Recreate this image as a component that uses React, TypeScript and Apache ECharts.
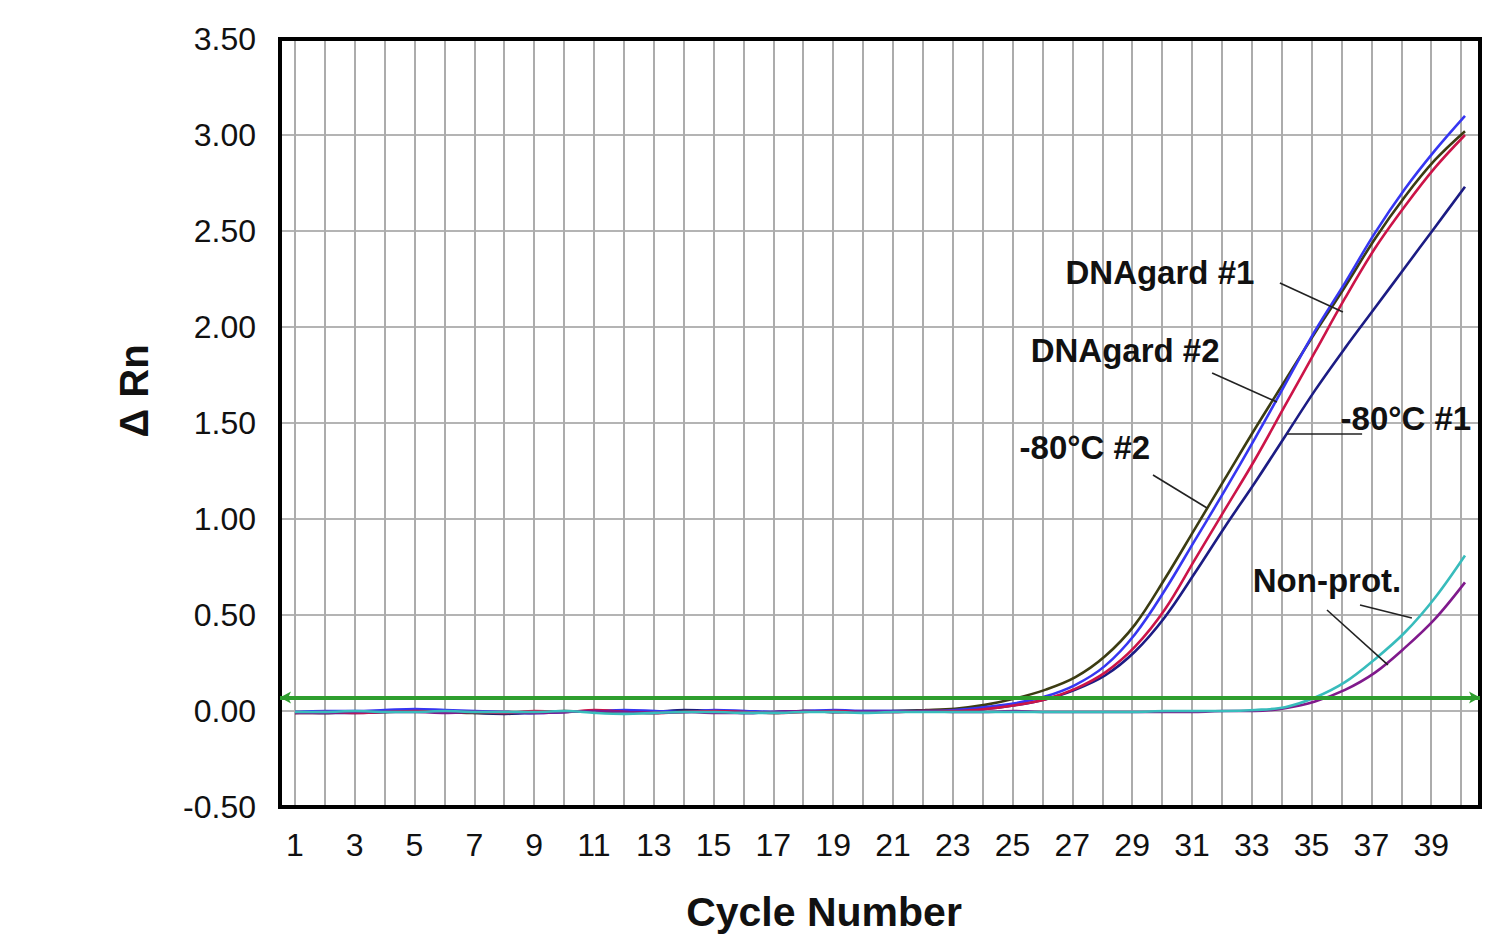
import React, { useEffect, useRef } from "react";
import * as echarts from "echarts";

const FONT = "'Liberation Sans', Arial, Helvetica, sans-serif";

const cycles = [1, 2, 3, 4, 5, 6, 7, 8, 9, 10, 11, 12, 13, 14, 15, 16, 17, 18, 19, 20,
  21, 22, 23, 24, 25, 26, 27, 28, 29, 30, 31, 32, 33, 34, 35, 36, 37, 38, 39, 40];

const xTickLabels = [1, 3, 5, 7, 9, 11, 13, 15, 17, 19, 21, 23, 25, 27, 29, 31, 33, 35, 37, 39];

// -80°C #2 (olive)
const olive = [-0.01, -0.01, -0.005, -0.005, 0.0, -0.005, -0.01, -0.01, -0.005, 0.0,
  -0.005, -0.01, -0.01, 0.0, -0.005, -0.005, -0.01, 0.0, -0.005, -0.005,
  0.0, 0.005, 0.012, 0.032, 0.065, 0.11, 0.175, 0.285, 0.45, 0.69,
  0.95, 1.21, 1.47, 1.72, 1.97, 2.21, 2.46, 2.68, 2.87, 3.02];
// DNAgard (blue)
const blue = [-0.005, 0.0, 0.0, 0.005, 0.01, 0.005, 0.0, -0.005, -0.01, -0.005,
  0.0, 0.005, 0.0, -0.005, 0.005, 0.0, -0.005, 0.0, 0.005, 0.0,
  0.0, 0.0, 0.005, 0.02, 0.04, 0.075, 0.135, 0.235, 0.40, 0.63,
  0.89, 1.15, 1.42, 1.70, 1.98, 2.23, 2.49, 2.72, 2.92, 3.10];
// DNAgard (red)
const red = [-0.01, -0.005, -0.01, -0.005, 0.0, -0.005, -0.005, -0.01, 0.0, -0.005,
  0.005, -0.005, -0.01, -0.005, 0.0, -0.005, -0.01, -0.005, 0.0, -0.005,
  -0.005, 0.0, 0.0, 0.01, 0.03, 0.06, 0.115, 0.20, 0.335, 0.53,
  0.79, 1.05, 1.31, 1.59, 1.87, 2.15, 2.41, 2.63, 2.83, 3.00];
// -80°C #1 (navy)
const navy = [-0.005, -0.01, -0.01, -0.005, 0.005, 0.0, -0.01, -0.015, -0.01, -0.005,
  0.0, -0.01, -0.005, 0.005, 0.0, -0.01, -0.005, 0.0, -0.005, 0.0,
  0.0, 0.0, 0.0, 0.01, 0.03, 0.06, 0.11, 0.185, 0.31, 0.49,
  0.72, 0.96, 1.19, 1.43, 1.67, 1.89, 2.10, 2.31, 2.52, 2.73];
// Non-prot. (teal)
const teal = [-0.005, -0.005, 0.0, -0.005, -0.005, 0.0, -0.005, -0.005, -0.005, 0.0,
  -0.01, -0.015, -0.01, -0.005, -0.005, -0.01, -0.01, -0.005, -0.005, -0.01,
  -0.005, -0.005, -0.005, -0.005, -0.005, -0.005, -0.005, -0.005, -0.005, 0.0,
  0.0, 0.0, 0.005, 0.02, 0.07, 0.15, 0.27, 0.41, 0.59, 0.81];
// Non-prot. (purple)
const purple = [-0.01, -0.01, -0.005, -0.005, -0.005, -0.01, -0.005, -0.005, -0.01, -0.005,
  0.0, -0.005, -0.01, -0.005, -0.01, -0.01, -0.005, 0.0, -0.005, -0.005,
  -0.005, 0.0, -0.005, -0.005, 0.0, -0.005, -0.005, -0.005, -0.005, -0.005,
  -0.005, 0.0, 0.0, 0.015, 0.05, 0.11, 0.20, 0.33, 0.48, 0.67];

const threshold = 0.068;

const labelTexts = ["DNAgard #1", "DNAgard #2", "-80°C #2", "-80°C #1", "Non-prot."];
const labelAnchors = [
  [29.83, 2.286],
  [28.67, 1.88],
  [27.33, 1.375],
  [38.03, 1.526],
  [35.4, 0.682],
];
const leaderLines = [
  [[33.83, 2.229], [35.93, 2.078]],
  [[31.57, 1.76], [33.73, 1.609]],
  [[34.07, 1.443], [36.57, 1.443]],
  [[29.6, 1.229], [31.4, 1.057]],
  [[35.4, 0.526], [37.43, 0.24]],
  [[36.5, 0.552], [38.23, 0.484]],
];

const seriesDefs = [
  { name: "-80°C #1", values: navy, color: "#1c1c84" },
  { name: "-80°C #2", values: olive, color: "#3c3c12" },
  { name: "DNAgard #1", values: blue, color: "#3636f2" },
  { name: "DNAgard #2", values: red, color: "#cc1448" },
  { name: "Non-prot. #1", values: purple, color: "#801a8c" },
  { name: "Non-prot. #2", values: teal, color: "#38bcbc" },
];

export default function App() {
  const ref = useRef<HTMLDivElement>(null);

  useEffect(() => {
    if (!ref.current) return;
    const chart = echarts.init(ref.current, undefined, { renderer: "svg" });

    const series: any[] = seriesDefs.map((s, k) => ({
      type: "line",
      name: s.name,
      xAxisIndex: 0,
      yAxisIndex: 0,
      data: cycles.map((c, i) => [c, s.values[i]]),
      showSymbol: false,
      symbol: "none",
      smooth: 0.35,
      lineStyle: { color: s.color, width: 2.6 },
      itemStyle: { color: s.color },
      z: 2 + k * 0.01,
    }));

    // threshold line
    series[1].markLine = {
      silent: true,
      symbol: ["arrow", "arrow"],
      symbolSize: [9, 11],
      label: { show: false },
      lineStyle: { color: "#2e9e2e", width: 4, type: "solid" },
      data: [{ yAxis: threshold }],
    };

    // annotations
    series.push({
      type: "scatter",
      name: "annotations",
      xAxisIndex: 0,
      yAxisIndex: 0,
      data: [],
      silent: true,
      z: 6,
      markLine: {
        silent: true,
        symbol: ["none", "none"],
        label: { show: false },
        lineStyle: { color: "#222", width: 1.6, type: "solid" },
        data: leaderLines.map((l) => [{ coord: l[0] }, { coord: l[1] }]),
      },
      markPoint: {
        silent: true,
        symbol: "rect",
        symbolSize: 1,
        itemStyle: { color: "rgba(0,0,0,0)" },
        label: {
          show: true,
          position: "inside",
          formatter: (p: any) => p.name,
          fontSize: 33,
          fontWeight: "bold",
          fontFamily: FONT,
          color: "#111",
        },
        data: labelTexts.map((t, i) => ({ name: t, coord: labelAnchors[i] })),
      },
    });

    chart.setOption({
      animation: false,
      backgroundColor: "#ffffff",
      textStyle: { fontFamily: FONT },
      grid: [
        {
          left: 280, top: 39, width: 1200, height: 768,
          show: true, borderColor: "#000", borderWidth: 4,
          backgroundColor: "rgba(0,0,0,0)", z: 3,
        },
        { left: 265, top: 39, width: 1230, height: 768, show: false },
      ],
      xAxis: [
        {
          type: "value", gridIndex: 0, min: 0.5, max: 40.5,
          axisLine: { show: false }, axisTick: { show: false },
          axisLabel: { show: false }, splitLine: { show: false },
        },
        {
          type: "value", gridIndex: 1, min: 0, max: 41, interval: 1,
          axisLine: { show: false }, axisTick: { show: false },
          axisLabel: {
            formatter: (v: number) => (xTickLabels.includes(v) ? String(v) : ""),
            fontSize: 32, color: "#111", margin: 22, fontFamily: FONT,
          },
          splitLine: {
            show: true, showMinLine: false, showMaxLine: false,
            lineStyle: { color: "#acacac", width: 2 },
          },
        },
      ],
      yAxis: [
        {
          type: "value", gridIndex: 0, min: -0.5, max: 3.5, interval: 0.5,
          axisLine: { show: false }, axisTick: { show: false },
          axisLabel: {
            formatter: (v: number) => v.toFixed(2),
            fontSize: 32, color: "#111", margin: 24, fontFamily: FONT,
          },
          splitLine: {
            show: true, showMinLine: false, showMaxLine: false,
            lineStyle: { color: "#b4b4b4", width: 2 },
          },
        },
        {
          type: "value", gridIndex: 1, min: -0.5, max: 3.5, show: false,
          splitLine: { show: false },
        },
      ],
      graphic: [
        {
          type: "text",
          x: 824,
          y: 912,
          style: {
            text: "Cycle Number",
            fontSize: 41,
            fontWeight: "bold",
            fontFamily: FONT,
            fill: "#111",
            textAlign: "center",
            textVerticalAlign: "middle",
          },
        },
        {
          type: "text",
          x: 134,
          y: 391,
          rotation: Math.PI / 2,
          style: {
            text: "Δ Rn",
            fontSize: 40,
            fontWeight: "bold",
            fontFamily: FONT,
            fill: "#111",
            textAlign: "center",
            textVerticalAlign: "middle",
          },
        },
      ],
      series,
    });

    return () => chart.dispose();
  }, []);

  return (
    <div
      ref={ref}
      style={{ position: "absolute", left: 0, top: 0, width: 1494, height: 934 }}
    />
  );
}
